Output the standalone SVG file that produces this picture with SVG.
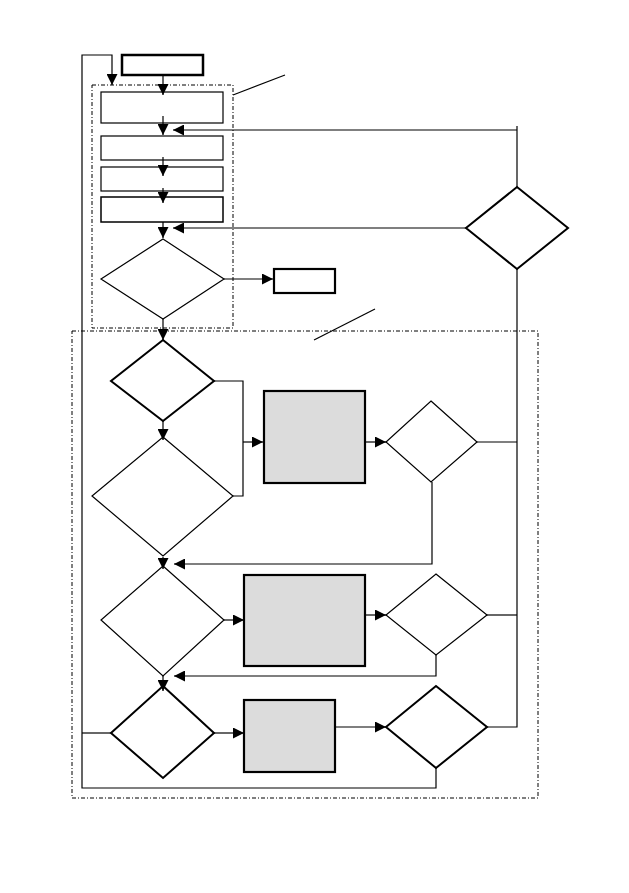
<svg xmlns="http://www.w3.org/2000/svg" width="629" height="893" viewBox="0 0 629 893">
<style>
.ln{fill:none;stroke:#000;stroke-width:1.2}
.arr{marker-end:url(#ah)}
.frame{fill:none;stroke:#000;stroke-width:1;stroke-dasharray:4 2 1 2}
.box{fill:#fff;stroke:#000;stroke-width:1.2}
.thick{fill:#fff;stroke:#000;stroke-width:2.5}
.gray{fill:#dcdcdc;stroke:#000;stroke-width:2.2}
.dia{fill:#fff;stroke:#000;stroke-width:1.2}
.diat{fill:#fff;stroke:#000;stroke-width:2}
</style>
<defs>
<marker id="ah" markerUnits="userSpaceOnUse" markerWidth="11" markerHeight="11" refX="10" refY="5" orient="auto" viewBox="0 0 10 10">
<path d="M0,0 L10,5 L0,10 z" fill="#000"/>
</marker>
</defs>
<rect width="629" height="893" fill="#fff"/>
<g id="frames">
<rect class="frame" x="92" y="85" width="141" height="243"/>
<rect class="frame" x="72" y="331" width="466" height="467"/>
</g>
<g id="start"><rect class="thick" x="122" y="55" width="81" height="20"/></g>
<g id="boxA"><rect class="box" x="101" y="92" width="122" height="31"/></g>
<g id="boxB"><rect class="box" x="101" y="136" width="122" height="24"/></g>
<g id="boxC"><rect class="box" x="101" y="167" width="122" height="24"/></g>
<g id="boxD"><rect class="box" x="101" y="197" width="122" height="25" style="stroke-width:1.5"/></g>
<g id="dec1"><polygon class="dia" points="163,239 224,279 163,319 101,279"/></g>
<g id="boxE"><rect class="thick" x="274" y="269" width="61" height="24" style="stroke-width:2.2"/></g>
<g id="decR"><polygon class="diat" points="517,187 568,228 517,269 466,228"/></g>
<g id="dec2"><polygon class="diat" points="163,340 214,381 163,421 111,381"/></g>
<g id="dec3"><polygon class="dia" points="163,437 233,496 163,556 92,496"/></g>
<g id="boxF"><rect class="gray" x="264" y="391" width="101" height="92"/></g>
<g id="dec4"><polygon class="dia" points="431,401 477,442 431,482 386,442"/></g>
<g id="dec5"><polygon class="dia" points="163,566 224,620 163,676 101,620"/></g>
<g id="boxG"><rect class="gray" x="244" y="575" width="121" height="91"/></g>
<g id="dec6"><polygon class="dia" points="436,574 487,615 436,655 386,615"/></g>
<g id="dec7"><polygon class="diat" points="163,686 214,733 163,778 111,733"/></g>
<g id="boxH"><rect class="gray" x="244" y="700" width="91" height="72"/></g>
<g id="dec8"><polygon class="diat" points="436,686 487,727 436,768 386,727"/></g>
<g id="connectors">
<path class="ln arr" d="M436,768 V788 H82 V55 H112 V85"/>
<path class="ln" d="M111,733 H82"/>
<path class="ln arr" d="M163,76 V95"/>
<path class="ln arr" d="M163,116 V135"/>
<path class="ln arr" d="M163,157 V176"/>
<path class="ln arr" d="M163,188 V203"/>
<path class="ln arr" d="M163,222 V238"/>
<path class="ln" d="M517,126 V187"/>
<path class="ln arr" d="M517,130 H173"/>
<path class="ln arr" d="M466,228 H173"/>
<path class="ln arr" d="M224,279 H273"/>
<path class="ln arr" d="M163,319 V340"/>
<path class="ln" d="M214,381 H243 V496 H233"/>
<path class="ln arr" d="M243,442 H263"/>
<path class="ln arr" d="M163,421 V440"/>
<path class="ln arr" d="M365,442 H386"/>
<path class="ln" d="M477,442 H517"/>
<path class="ln arr" d="M432,482 V564 H174"/>
<path class="ln arr" d="M163,557 V569"/>
<path class="ln arr" d="M224,620 H244"/>
<path class="ln arr" d="M365,615 H386"/>
<path class="ln" d="M487,615 H517"/>
<path class="ln arr" d="M436,655 V676 H174"/>
<path class="ln arr" d="M163,676 V691"/>
<path class="ln arr" d="M214,733 H244"/>
<path class="ln arr" d="M335,727 H386"/>
<path class="ln" d="M487,727 H517 V269"/>
<path class="ln" d="M233,95 L285,75"/>
<path class="ln" d="M314,340 L375,309"/>
</g>
</svg>
